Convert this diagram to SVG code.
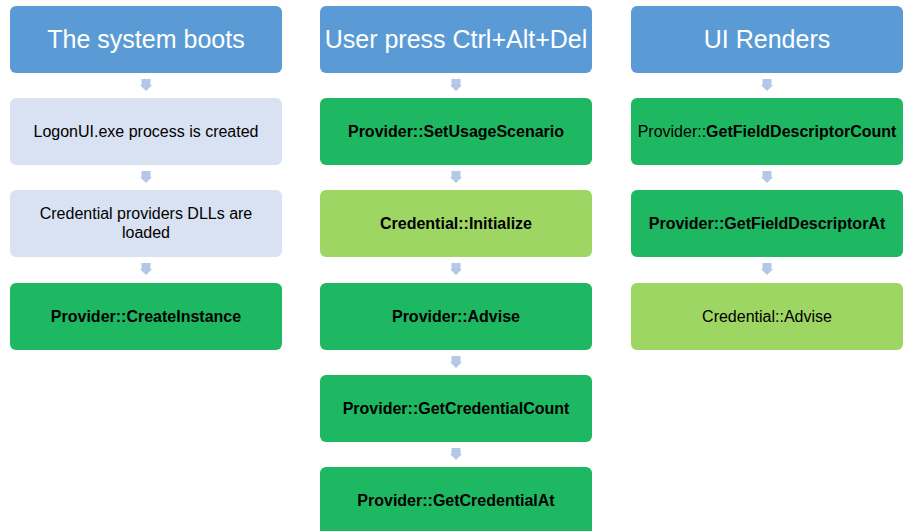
<svg xmlns="http://www.w3.org/2000/svg" width="904" height="531" viewBox="0 0 904 531">
<defs>
<style>
.hd{fill:#5B9BD5}
.lb{fill:#D9E2F3}
.gr{fill:#1FB862}
.lg{fill:#9ED663}
.ht{font-family:"Liberation Sans",Arial,sans-serif;font-size:25px;fill:#FFFFFF;text-anchor:middle}
.bt{font-family:"Liberation Sans",Arial,sans-serif;font-size:16px;fill:#000000;text-anchor:middle}
.b{font-weight:bold}
.ar{fill:#B4C7E7}
</style>
<path id="arr" d="M-4.5,0 H4.5 V6 H6 L0,12 L-6,6 H-4.5 Z"/>
</defs>
<rect width="904" height="531" fill="#FFFFFF"/>
<g id="connectors" class="ar">
<use href="#arr" x="146" y="79"/>
<use href="#arr" x="146" y="171"/>
<use href="#arr" x="146" y="263"/>
<use href="#arr" x="456" y="79"/>
<use href="#arr" x="456" y="171"/>
<use href="#arr" x="456" y="263"/>
<use href="#arr" x="456" y="356"/>
<use href="#arr" x="456" y="448"/>
<use href="#arr" x="767" y="79"/>
<use href="#arr" x="767" y="171"/>
<use href="#arr" x="767" y="263"/>
</g>
<g id="n1"><rect class="hd" x="10" y="6" width="272" height="67" rx="6"/><text class="ht" x="146" y="48">The system boots</text></g>
<g id="n2"><rect class="lb" x="10" y="98" width="272" height="67" rx="6"/><text class="bt" x="146" y="137">LogonUI.exe process is created</text></g>
<g id="n3"><rect class="lb" x="10" y="190" width="272" height="67" rx="6"/><text class="bt" x="146" y="219">Credential providers DLLs are</text><text class="bt" x="146" y="238">loaded</text></g>
<g id="n4"><rect class="gr" x="10" y="283" width="272" height="67" rx="6"/><text class="bt b" x="146" y="322">Provider::CreateInstance</text></g>
<g id="n5"><rect class="hd" x="320" y="6" width="272" height="67" rx="6"/><text class="ht" x="456" y="48">User press Ctrl+Alt+Del</text></g>
<g id="n6"><rect class="gr" x="320" y="98" width="272" height="67" rx="6"/><text class="bt b" x="456" y="137">Provider::SetUsageScenario</text></g>
<g id="n7"><rect class="lg" x="320" y="190" width="272" height="67" rx="6"/><text class="bt b" x="456" y="229">Credential::Initialize</text></g>
<g id="n8"><rect class="gr" x="320" y="283" width="272" height="67" rx="6"/><text class="bt b" x="456" y="322">Provider::Advise</text></g>
<g id="n9"><rect class="gr" x="320" y="375" width="272" height="67" rx="6"/><text class="bt b" x="456" y="414">Provider::GetCredentialCount</text></g>
<g id="n10"><rect class="gr" x="320" y="467" width="272" height="70" rx="6"/><text class="bt b" x="456" y="506">Provider::GetCredentialAt</text></g>
<g id="n11"><rect class="hd" x="631" y="6" width="272" height="67" rx="6"/><text class="ht" x="767" y="48">UI Renders</text></g>
<g id="n12"><rect class="gr" x="631" y="98" width="272" height="67" rx="6"/><text class="bt" x="767" y="137">Provider::<tspan class="b">GetFieldDescriptorCount</tspan></text></g>
<g id="n13"><rect class="gr" x="631" y="190" width="272" height="67" rx="6"/><text class="bt b" x="767" y="229">Provider::GetFieldDescriptorAt</text></g>
<g id="n14"><rect class="lg" x="631" y="283" width="272" height="67" rx="6"/><text class="bt" x="767" y="322">Credential::Advise</text></g>
</svg>
